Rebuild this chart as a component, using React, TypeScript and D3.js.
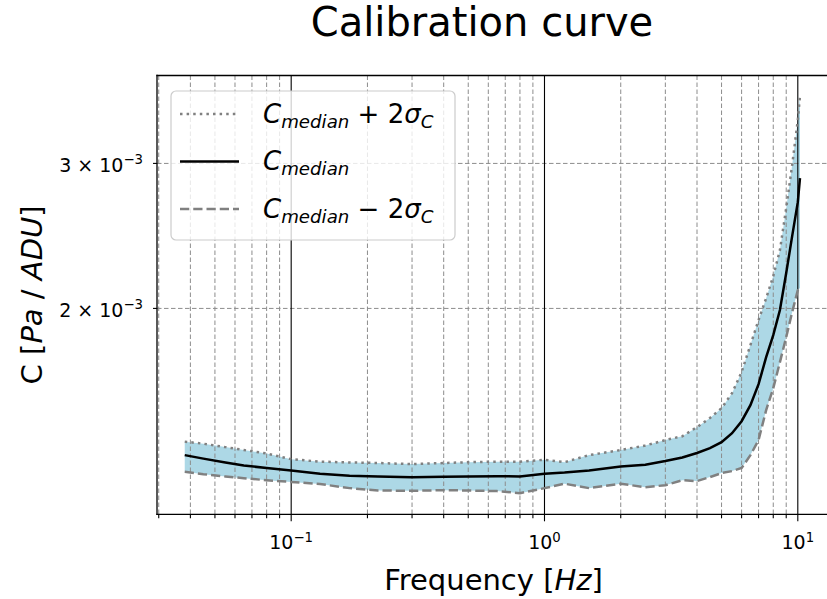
import { useEffect, useRef } from 'react';
import * as d3 from 'd3';

// Frequency samples [Hz] and calibration values [Pa / ADU] (x 1e-3)
const freq = [
  0.038, 0.045, 0.055, 0.065, 0.08, 0.1, 0.13, 0.17, 0.22, 0.3,
  0.4, 0.5, 0.65, 0.8, 1.0, 1.2, 1.5, 2.0, 2.5, 3.0,
  3.5, 4.0, 4.5, 5.0, 5.5, 6.0, 6.5, 7.0, 7.5, 8.0,
  8.5, 9.0, 9.5, 10.0, 10.2,
];
const cMedian = [
  1.327, 1.314, 1.300, 1.289, 1.280, 1.271, 1.260, 1.253, 1.250, 1.247,
  1.249, 1.250, 1.251, 1.250, 1.260, 1.264, 1.271, 1.285, 1.292, 1.305,
  1.318, 1.335, 1.353, 1.376, 1.411, 1.459, 1.526, 1.618, 1.745, 1.856,
  1.991, 2.208, 2.448, 2.692, 2.879,
];
const cUpper = [
  1.378, 1.370, 1.357, 1.346, 1.333, 1.312, 1.303, 1.300, 1.298, 1.294,
  1.298, 1.301, 1.303, 1.303, 1.310, 1.301, 1.327, 1.346, 1.363, 1.384,
  1.399, 1.435, 1.472, 1.513, 1.578, 1.674, 1.805, 1.936, 2.058, 2.189,
  2.354, 2.647, 2.986, 3.386, 3.621,
];
const cLower = [
  1.267, 1.258, 1.250, 1.244, 1.237, 1.231, 1.224, 1.210, 1.202, 1.201,
  1.203, 1.202, 1.200, 1.193, 1.210, 1.225, 1.210, 1.225, 1.213, 1.220,
  1.237, 1.234, 1.248, 1.262, 1.269, 1.280, 1.327, 1.384, 1.505, 1.600,
  1.721, 1.846, 1.979, 2.105, 2.117,
];

const yTicks = [2e-3, 3e-3];
const yTickMantissa = ['2', '3'];
const yTickExponent = '\u22123';

const xDomain: [number, number] = [0.02953, 13.4];
const yDomain: [number, number] = [1.1246e-3, 3.836e-3];

type Part = { t: string; italic?: boolean; sub?: boolean; sup?: boolean };

const FONT = '"DejaVu Sans", Verdana, sans-serif';

function mathText(text: any, parts: Part[], size: number) {
  let shift = 0;
  parts.forEach(p => {
    const target = p.sub ? size * 0.2 : p.sup ? -size * 0.4 : 0;
    const ts = text.append('tspan')
      .attr('dy', target - shift)
      .attr('font-size', p.sub || p.sup ? size * 0.7 : size)
      .text(p.t);
    if (p.italic) ts.attr('font-style', 'italic');
    shift = target;
  });
}

export default function App() {
  const svgRef = useRef<SVGSVGElement>(null);

  useEffect(() => {
    if (!svgRef.current) return;
    const svg = d3.select(svgRef.current);
    svg.selectAll('*').remove();

    const width = 827;
    const height = 599;
    const left = 157;
    const top = 75.5;
    const right = 830;
    const bottom = 514.3;

    svg.attr('width', width).attr('height', height);

    const x = d3.scaleLog().domain(xDomain).range([left, right]);
    const y = d3.scaleLog().domain(yDomain).range([bottom, top]);

    svg.append('rect').attr('width', width).attr('height', height).attr('fill', '#fff');

    svg.append('defs').append('clipPath').attr('id', 'plot-clip')
      .append('rect')
      .attr('x', left).attr('y', top)
      .attr('width', right - left).attr('height', bottom - top);

    const idx = d3.range(freq.length);

    // Band between median +/- 2 sigma
    const area = d3.area<number>()
      .x(i => x(freq[i]))
      .y0(i => y(cLower[i] * 1e-3))
      .y1(i => y(cUpper[i] * 1e-3));

    const plot = svg.append('g').attr('clip-path', 'url(#plot-clip)');

    plot.append('path')
      .datum(idx)
      .attr('d', area)
      .attr('fill', '#add8e6');

    // Grid
    const xTicksAll = x.ticks();
    const isMajor = (v: number) => Math.abs(Math.log10(v) - Math.round(Math.log10(v))) < 1e-6;

    xTicksAll.filter(v => !isMajor(v)).forEach(v => {
      plot.append('line')
        .attr('x1', x(v)).attr('x2', x(v))
        .attr('y1', top).attr('y2', bottom)
        .attr('stroke', '#8c8c8c')
        .attr('stroke-width', 1)
        .attr('stroke-dasharray', '4.5,2.5');
    });
    yTicks.forEach(v => {
      plot.append('line')
        .attr('x1', left).attr('x2', right)
        .attr('y1', y(v)).attr('y2', y(v))
        .attr('stroke', '#8c8c8c')
        .attr('stroke-width', 1)
        .attr('stroke-dasharray', '4.5,2.5');
    });
    xTicksAll.filter(isMajor).forEach(v => {
      plot.append('line')
        .attr('x1', x(v)).attr('x2', x(v))
        .attr('y1', top).attr('y2', bottom)
        .attr('stroke', '#000')
        .attr('stroke-width', 1.1);
    });

    // Curves
    const lineOf = (vals: number[]) => d3.line<number>()
      .x(i => x(freq[i]))
      .y(i => y(vals[i] * 1e-3));

    plot.append('path')
      .datum(idx)
      .attr('d', lineOf(cUpper))
      .attr('fill', 'none')
      .attr('stroke', '#808080')
      .attr('stroke-width', 2.5)
      .attr('stroke-dasharray', '2.5,4.1');

    plot.append('path')
      .datum(idx)
      .attr('d', lineOf(cLower))
      .attr('fill', 'none')
      .attr('stroke', '#808080')
      .attr('stroke-width', 2.5)
      .attr('stroke-dasharray', '9.25,4');

    plot.append('path')
      .datum(idx)
      .attr('d', lineOf(cMedian))
      .attr('fill', 'none')
      .attr('stroke', '#000')
      .attr('stroke-width', 2.5);

    // Spines
    const spine = (x1: number, y1: number, x2: number, y2: number) =>
      svg.append('line')
        .attr('x1', x1).attr('y1', y1).attr('x2', x2).attr('y2', y2)
        .attr('stroke', '#000').attr('stroke-width', 1.3)
        .attr('stroke-linecap', 'square');
    spine(left, top, left, bottom);
    spine(left, top, right, top);
    spine(left, bottom, right, bottom);
    spine(right, top, right, bottom);

    // X ticks
    xTicksAll.forEach(v => {
      const len = isMajor(v) ? 7 : 4;
      svg.append('line')
        .attr('x1', x(v)).attr('x2', x(v))
        .attr('y1', bottom).attr('y2', bottom + len)
        .attr('stroke', '#000').attr('stroke-width', 1.1);
    });
    xTicksAll.filter(isMajor).forEach(v => {
      const e = Math.round(Math.log10(v));
      const t = svg.append('text')
        .attr('x', x(v)).attr('y', bottom + 35)
        .attr('text-anchor', 'middle')
        .attr('font-family', FONT)
        .attr('fill', '#000')
        .style('white-space', 'pre');
      mathText(t, [{ t: '10' }, { t: e < 0 ? '\u2212' + Math.abs(e) : String(e), sup: true }], 19);
    });

    // Y ticks
    yTicks.forEach((v, i) => {
      svg.append('line')
        .attr('x1', left - 4).attr('x2', left)
        .attr('y1', y(v)).attr('y2', y(v))
        .attr('stroke', '#000').attr('stroke-width', 1.1);
      const t = svg.append('text')
        .attr('x', left - 14).attr('y', y(v) + 8.5)
        .attr('text-anchor', 'end')
        .attr('font-family', FONT)
        .attr('fill', '#000')
        .style('white-space', 'pre');
      mathText(t, [{ t: `${yTickMantissa[i]} \u00d7 10` }, { t: yTickExponent, sup: true }], 19);
    });

    // Title
    svg.append('text')
      .attr('x', 482).attr('y', 36)
      .attr('text-anchor', 'middle')
      .attr('font-family', FONT)
      .attr('font-size', 40)
      .attr('fill', '#000')
      .text('Calibration curve');

    // Axis labels
    const xl = svg.append('text')
      .attr('x', (left + right) / 2).attr('y', 590)
      .attr('text-anchor', 'middle')
      .attr('font-family', FONT)
      .attr('fill', '#000')
      .style('white-space', 'pre');
    mathText(xl, [{ t: 'Frequency [' }, { t: 'Hz', italic: true }, { t: ']' }], 29);

    const yl = svg.append('text')
      .attr('transform', `translate(42,${(top + bottom) / 2}) rotate(-90)`)
      .attr('text-anchor', 'middle')
      .attr('font-family', FONT)
      .attr('fill', '#000')
      .style('white-space', 'pre');
    mathText(yl, [{ t: 'C [' }, { t: 'Pa', italic: true }, { t: ' / ' }, { t: 'ADU', italic: true }, { t: ']' }], 29);

    // Legend
    const legend = svg.append('g');
    legend.append('rect')
      .attr('x', 171).attr('y', 91)
      .attr('width', 284).attr('height', 149)
      .attr('rx', 5)
      .attr('fill', '#fff').attr('fill-opacity', 0.8)
      .attr('stroke', '#cccccc').attr('stroke-width', 1.2);

    const entries = [
      { dash: '2.5,4.1', color: '#808080', parts: [{ t: 'C', italic: true }, { t: 'median', italic: true, sub: true }, { t: ' + 2' }, { t: '\u03c3', italic: true }, { t: 'C', italic: true, sub: true }] },
      { dash: null, color: '#000', parts: [{ t: 'C', italic: true }, { t: 'median', italic: true, sub: true }] },
      { dash: '9.25,4', color: '#808080', parts: [{ t: 'C', italic: true }, { t: 'median', italic: true, sub: true }, { t: ' \u2212 2' }, { t: '\u03c3', italic: true }, { t: 'C', italic: true, sub: true }] },
    ];
    entries.forEach((e, i) => {
      const ry = 114 + i * 47.5;
      const l = legend.append('line')
        .attr('x1', 180).attr('x2', 239)
        .attr('y1', ry).attr('y2', ry)
        .attr('stroke', e.color).attr('stroke-width', 2.5);
      if (e.dash) l.attr('stroke-dasharray', e.dash);
      const t = legend.append('text')
        .attr('x', 263).attr('y', ry + 8.5)
        .attr('font-family', FONT)
        .attr('fill', '#000')
        .style('white-space', 'pre');
      mathText(t, e.parts as Part[], 26);
    });
  }, []);

  return (
    <svg
      ref={svgRef}
      style={{ position: 'absolute', left: 0, top: 0, display: 'block' }}
    />
  );
}
